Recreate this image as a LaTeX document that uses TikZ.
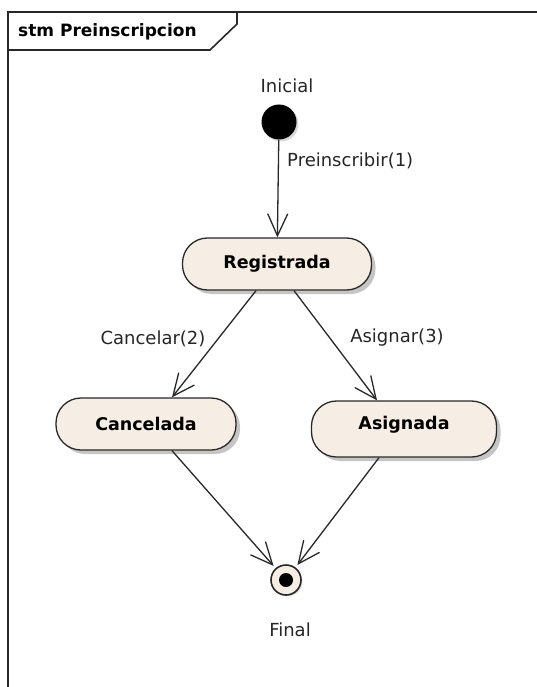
\documentclass[tikz,border=0pt]{standalone}
\usepackage{fontspec}
\setmainfont{DejaVu Sans}
\usetikzlibrary{arrows.meta,shadows}

\definecolor{statefill}{RGB}{246,238,228}
\definecolor{linegray}{RGB}{40,40,40}

\tikzset{
  estado/.style={draw=linegray, line width=1.3pt, fill=statefill, rounded corners=25pt,
    minimum width=189pt, minimum height=52pt, inner sep=0pt,
    font=\fontsize{17.5}{19}\selectfont\bfseries,
    drop shadow={shadow xshift=4pt, shadow yshift=-4pt, fill=black!45}},
  etiq/.style={font=\fontsize{18}{20}\selectfont, text=black!85, inner sep=0pt},
  trans/.style={draw=linegray, line width=1.3pt, -{Straight Barb[length=22pt,width=20pt,line width=1.3pt]}}
}

\begin{document}
\begin{tikzpicture}[x=1pt,y=-1pt]
	\useasboundingbox (0,0) rectangle (537,687);
	% marco
	\draw[linegray, line width=1.6pt] (8,687) -- (8,12) -- (537,12);
	\draw[linegray, line width=1.6pt] (8,50) -- (210,50) -- (237,24) -- (237,12);
	\node[anchor=west, inner sep=0pt, font=\fontsize{17}{19}\selectfont\bfseries] (titulo) at (18,32) {stm Preinscripcion};

	% estados
	\node[circle, fill=black, minimum size=35pt, inner sep=0pt,
	      drop shadow={shadow xshift=2pt, shadow yshift=-2pt, fill=black!30}] (ini) at (279,122) {};
	\node[etiq] (lini) at (287,86) {Inicial};
	\node[estado] (reg) at (277,264) {Registrada};
	\node[estado, minimum width=180pt] (canc) at (146,424) {Cancelada};
	\node[estado, minimum width=185pt, minimum height=56pt, text depth=12pt] (asig) at (404,429) {Asignada};
	\node[circle, draw=linegray, line width=1.6pt, fill=statefill, minimum size=30pt, inner sep=0pt,
	      drop shadow={shadow xshift=1.5pt, shadow yshift=-1.5pt, fill=black!25}] (fin) at (286,580) {};
	\node[circle, fill=black, minimum size=14pt, inner sep=0pt] (fin2) at (fin) {};
	\node[etiq] (lfin) at (290,630) {Final};

	% transiciones
	\draw[trans] (ini) -- (reg);
	\node[etiq, anchor=west] (lpre) at (287,161) {Preinscribir(1)};
	\draw[trans] ([xshift=-21pt]reg.south) -- ([xshift=26pt]canc.north);
	\node[etiq] (lcanc) at (153,339) {Cancelar(2)};
	\draw[trans] ([xshift=17pt]reg.south) -- ([xshift=-27pt]asig.north);
	\node[etiq] (lasig) at (397,338) {Asignar(3)};
	\draw[trans, shorten >=3pt] ([xshift=26pt]canc.south) -- (fin);
	\draw[trans, shorten >=3pt] ([xshift=-25pt]asig.south) -- (fin);
\end{tikzpicture}
\end{document}
